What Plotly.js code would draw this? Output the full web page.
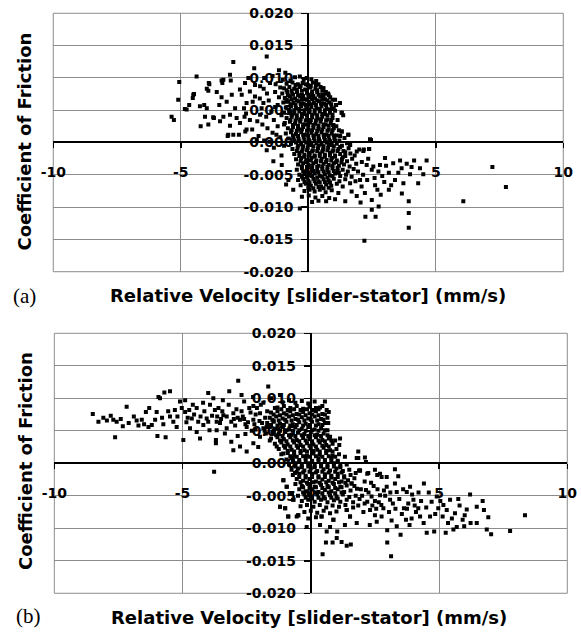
<!DOCTYPE html>
<html>
<head>
<meta charset="utf-8">
<script src="https://cdn.plot.ly/plotly-3.0.1.min.js"></script>
<style>html,body{margin:0;padding:0;background:#fff;}#chart{width:581px;height:635px;}</style>
</head>
<body>
<div id="chart"></div>
<script>
// ---------- Data: panel (a) [relative velocity mm/s, coefficient of friction] ----------
const aLeft = [
[-2.94,0.01245],[-1.63,0.0133],[-5.06,0.00935],[-4.38,0.0102],[-3.88,0.0090],[-3.33,0.0097],[-3.07,0.0105],[-3.37,0.0092],
[-3.04,0.0096],[-2.48,0.0092],[-2.12,0.0115],[-3.92,0.0080],[-3.59,0.0078],[-4.48,0.0075],[-4.53,0.0069],[-5.10,0.0066],
[-4.08,0.0058],[-3.98,0.0053],[-4.77,0.0051],[-4.67,0.0058],[-4.25,0.0056],[-3.40,0.0070],[-3.00,0.0074],[-2.68,0.0082],
[-2.61,0.0074],[-2.29,0.0079],[-3.49,0.0058],[-3.20,0.0063],[-4.05,0.0040],[-3.70,0.0038],[-3.92,0.0028],[-4.22,0.0025],
[-3.46,0.0033],[-3.33,0.0040],[-3.07,0.0043],[-2.87,0.0053],[-2.81,0.0038],[-2.52,0.0053],[-2.42,0.0061],[-2.18,0.0063],
[-2.09,0.0071],[-3.14,0.0012],[-2.94,0.0012],[-2.72,0.0012],[-2.42,0.0020],[-2.68,0.0030],[-3.07,0.0026],[-2.00,0.0033],
[-1.89,0.0043],[-1.83,0.0053],[-1.76,0.0061],[-2.29,0.0035],[-2.44,0.0045],[-2.09,0.0089],[-2.35,0.0100],[-1.89,0.0087],
[-1.73,0.0100],[-2.02,0.0004],[-1.73,0.0003],[-5.27,0.0035],[-5.36,0.0040],[-3.90,0.0092],[-3.40,0.0096],[-4.84,0.0052],
[-4.51,0.0074],[-3.98,0.0083],[-3.73,0.0039],[-2.47,0.0017],[-3.16,0.0010],
[-1.50,0.0092],[-1.40,0.0103],[-1.30,0.0078],[-1.55,0.0065],[-1.45,0.0048],[-1.35,0.0035],[-1.60,0.0022],[-1.25,0.0012],
[-1.50,0.0001],[-1.20,0.0058],[-1.10,0.0085],[-1.00,0.0097],[-1.15,0.0070],[-1.05,0.0042],[-0.95,0.0028],[-1.20,0.0025],
[-1.10,0.0008],[-0.90,0.0108],[-0.85,0.0063],[-1.30,0.0055],[-1.65,0.0040],[-1.80,0.0028],[-1.90,0.0068],[-1.75,0.0083],
[-2.20,0.0020],[-1.95,0.0010],[-2.50,0.0040],[-0.95,-0.0005],[-1.05,-0.0020],[-1.40,0.0015],[-1.28,0.0090],[-1.62,0.0076],
[-1.15,0.0112],[-1.35,-0.0008],[-1.63,-0.0012],[-1.37,-0.0029],[-1.04,-0.0035],[-0.87,-0.0065],[-0.59,-0.0073],[-0.78,-0.0058]
];
const aCore = [
[-0.52,0.0101],[-0.33,0.0102],[-0.18,0.0097],[-0.06,0.0100],[0.12,0.0098],[0.31,0.0095],[-0.70,0.0096],
[-0.85,0.0091],[-0.62,0.0093],[-0.41,0.0090],[-0.22,0.0092],[-0.02,0.0089],[0.18,0.0093],[0.40,0.0090],[0.59,0.0084],
[-0.95,0.0084],[-0.74,0.0086],[-0.55,0.0083],[-0.33,0.0086],[-0.12,0.0082],[0.08,0.0085],[0.28,0.0083],[0.48,0.0086],[0.69,0.0078],
[-1.02,0.0076],[-0.82,0.0078],[-0.63,0.0075],[-0.44,0.0078],[-0.25,0.0074],[-0.05,0.0077],[0.15,0.0075],[0.35,0.0078],[0.55,0.0074],[0.78,0.0076],
[-0.92,0.0069],[-0.72,0.0071],[-0.52,0.0068],[-0.32,0.0071],[-0.12,0.0067],[0.08,0.0070],[0.27,0.0068],[0.47,0.0071],[0.66,0.0067],[0.86,0.0070],[1.05,0.0066],
[-0.98,0.0062],[-0.78,0.0064],[-0.58,0.0061],[-0.38,0.0064],[-0.18,0.0060],[0.02,0.0063],[0.22,0.0061],[0.42,0.0064],[0.62,0.0060],[0.82,0.0062],[1.09,0.0058],[1.24,0.0061],
[-0.88,0.0054],[-0.68,0.0056],[-0.48,0.0053],[-0.28,0.0056],[-0.08,0.0052],[0.12,0.0055],[0.32,0.0053],[0.52,0.0056],[0.72,0.0052],[0.92,0.0054],
[-0.95,0.0046],[-0.75,0.0048],[-0.55,0.0045],[-0.35,0.0048],[-0.15,0.0044],[0.05,0.0047],[0.25,0.0045],[0.45,0.0048],[0.65,0.0044],[0.85,0.0046],[1.05,0.0049],[1.31,0.0046],[1.37,0.0042],
[-0.85,0.0038],[-0.65,0.0040],[-0.45,0.0037],[-0.25,0.0040],[-0.05,0.0036],[0.15,0.0039],[0.35,0.0037],[0.55,0.0040],[0.75,0.0036],[0.95,0.0038],[1.15,0.0035],
[-0.92,0.0030],[-0.72,0.0032],[-0.52,0.0029],[-0.32,0.0032],[-0.12,0.0028],[0.08,0.0031],[0.28,0.0029],[0.48,0.0032],[0.68,0.0028],[0.88,0.0030],[0.98,0.0027],
[-0.80,0.0022],[-0.60,0.0024],[-0.40,0.0021],[-0.20,0.0024],[0.00,0.0020],[0.20,0.0023],[0.40,0.0021],[0.60,0.0024],[0.80,0.0020],[1.00,0.0022],[1.20,0.0019],[1.31,0.0017],
[-0.88,0.0014],[-0.68,0.0016],[-0.48,0.0013],[-0.28,0.0016],[-0.08,0.0012],[0.12,0.0015],[0.32,0.0013],[0.52,0.0016],[0.72,0.0012],[0.92,0.0014],[1.12,0.0011],[1.57,0.0012],
[-0.78,0.0006],[-0.58,0.0008],[-0.38,0.0005],[-0.18,0.0008],[0.02,0.0004],[0.22,0.0007],[0.42,0.0005],[0.62,0.0008],[0.82,0.0004],[1.02,0.0006],[1.22,0.0003],[1.42,0.0007],
[-0.68,-0.0002],[-0.48,0.0000],[-0.28,-0.0003],[-0.08,0.0000],[0.12,-0.0004],[0.32,-0.0001],[0.52,-0.0003],[0.72,0.0000],[0.92,-0.0004],[1.12,-0.0002],[1.32,-0.0005],[1.52,-0.0001],[1.64,-0.0004],
[-0.62,-0.0010],[-0.42,-0.0008],[-0.22,-0.0011],[-0.02,-0.0008],[0.18,-0.0012],[0.38,-0.0009],[0.58,-0.0011],[0.78,-0.0008],[0.98,-0.0012],[1.18,-0.0010],[1.38,-0.0013],[1.58,-0.0009],[1.90,-0.0014],
[-0.55,-0.0018],[-0.35,-0.0016],[-0.15,-0.0019],[0.05,-0.0016],[0.25,-0.0020],[0.45,-0.0017],[0.65,-0.0019],[0.85,-0.0016],[1.05,-0.0020],[1.25,-0.0018],[1.45,-0.0021],[1.65,-0.0017],[1.82,-0.0020],
[-0.48,-0.0026],[-0.28,-0.0024],[-0.08,-0.0027],[0.12,-0.0024],[0.32,-0.0028],[0.52,-0.0025],[0.72,-0.0027],[0.92,-0.0024],[1.12,-0.0028],[1.32,-0.0026],[1.52,-0.0029],[1.72,-0.0025],
[-0.40,-0.0034],[-0.20,-0.0032],[0.00,-0.0035],[0.20,-0.0032],[0.40,-0.0036],[0.60,-0.0033],[0.80,-0.0035],[1.00,-0.0032],[1.20,-0.0036],[1.40,-0.0034],[1.62,-0.0037],[1.88,-0.0033],
[-0.45,-0.0042],[-0.25,-0.0040],[-0.05,-0.0043],[0.15,-0.0040],[0.35,-0.0044],[0.55,-0.0041],[0.75,-0.0043],[0.95,-0.0040],[1.15,-0.0044],[1.35,-0.0042],[1.55,-0.0045],[1.78,-0.0041],
[-0.35,-0.0050],[-0.15,-0.0048],[0.05,-0.0051],[0.25,-0.0048],[0.45,-0.0052],[0.65,-0.0049],[0.85,-0.0051],[1.05,-0.0048],[1.25,-0.0052],[1.48,-0.0050],[1.70,-0.0053],
[-0.40,-0.0058],[-0.20,-0.0056],[0.00,-0.0059],[0.20,-0.0056],[0.40,-0.0060],[0.60,-0.0057],[0.80,-0.0059],[1.00,-0.0056],[1.22,-0.0060],[1.45,-0.0057],
[-0.30,-0.0066],[-0.10,-0.0064],[0.10,-0.0067],[0.30,-0.0064],[0.50,-0.0068],[0.70,-0.0065],[0.90,-0.0067],[1.12,-0.0064],[1.35,-0.0068],
[-0.15,-0.0075],[0.05,-0.0073],[0.25,-0.0076],[0.45,-0.0073],[0.68,-0.0077],[0.92,-0.0074],[1.18,-0.0078],
[-0.25,-0.0084],[0.02,-0.0082],[0.28,-0.0085],[0.55,-0.0083],[0.82,-0.0086],[1.05,-0.0088],
[-0.33,-0.0102],[0.15,-0.0092],[0.40,-0.0090],[0.70,-0.0091]
];
const aCoreDense = [
[-0.50,0.0089],[-0.30,0.0088],[-0.10,0.0090],[0.10,0.0088],[0.30,0.0089],
[-0.85,0.0081],[-0.65,0.0080],[-0.45,0.0082],[-0.25,0.0080],[-0.05,0.0081],[0.15,0.0079],[0.35,0.0081],[0.55,0.0080],
[-0.80,0.0073],[-0.60,0.0074],[-0.40,0.0073],[-0.20,0.0072],[0.00,0.0074],[0.20,0.0072],[0.40,0.0074],[0.60,0.0072],[0.80,0.0073],
[-0.85,0.0066],[-0.65,0.0067],[-0.45,0.0065],[-0.25,0.0066],[-0.05,0.0066],[0.15,0.0067],[0.35,0.0065],[0.55,0.0066],[0.75,0.0065],[0.95,0.0066],
[-0.70,0.0059],[-0.50,0.0058],[-0.30,0.0060],[-0.10,0.0058],[0.10,0.0059],[0.30,0.0058],[0.50,0.0060],[0.70,0.0058],[0.90,0.0059],
[-0.75,0.0051],[-0.55,0.0050],[-0.35,0.0052],[-0.15,0.0050],[0.05,0.0051],[0.25,0.0050],[0.45,0.0052],[0.65,0.0050],[0.85,0.0051],[1.00,0.0052],
[-0.65,0.0043],[-0.45,0.0042],[-0.25,0.0044],[-0.05,0.0042],[0.15,0.0043],[0.35,0.0042],[0.55,0.0044],[0.75,0.0042],[0.95,0.0043],
[-0.70,0.0035],[-0.50,0.0034],[-0.30,0.0036],[-0.10,0.0034],[0.10,0.0035],[0.30,0.0034],[0.50,0.0036],[0.70,0.0034],[0.90,0.0035],
[-0.60,0.0027],[-0.40,0.0026],[-0.20,0.0028],[0.00,0.0026],[0.20,0.0027],[0.40,0.0026],[0.60,0.0028],[0.80,0.0026],[1.10,0.0025],
[-0.65,0.0019],[-0.45,0.0018],[-0.25,0.0020],[-0.05,0.0018],[0.15,0.0019],[0.35,0.0018],[0.55,0.0020],[0.75,0.0018],[0.95,0.0019],
[-0.60,0.0011],[-0.40,0.0010],[-0.20,0.0012],[0.00,0.0010],[0.20,0.0011],[0.40,0.0010],[0.60,0.0012],[0.80,0.0010],[1.00,0.0011],[1.25,0.0010],
[-0.55,0.0003],[-0.35,0.0002],[-0.15,0.0004],[0.05,0.0002],[0.25,0.0003],[0.45,0.0002],[0.65,0.0004],[0.85,0.0002],[1.05,0.0003],
[-0.40,-0.0005],[-0.20,-0.0006],[0.00,-0.0004],[0.20,-0.0006],[0.40,-0.0005],[0.60,-0.0006],[0.80,-0.0004],[1.00,-0.0006],[1.25,-0.0007],
[-0.45,-0.0013],[-0.25,-0.0014],[-0.05,-0.0012],[0.15,-0.0014],[0.35,-0.0013],[0.55,-0.0014],[0.75,-0.0012],[0.95,-0.0014],[1.15,-0.0013],[1.45,-0.0015],
[-0.35,-0.0021],[-0.15,-0.0022],[0.05,-0.0020],[0.25,-0.0022],[0.45,-0.0021],[0.65,-0.0022],[0.85,-0.0020],[1.05,-0.0022],[1.35,-0.0023],
[-0.30,-0.0029],[-0.10,-0.0030],[0.10,-0.0028],[0.30,-0.0030],[0.50,-0.0029],[0.70,-0.0030],[0.90,-0.0028],[1.10,-0.0030],[1.30,-0.0031],
[-0.25,-0.0037],[-0.05,-0.0038],[0.15,-0.0036],[0.35,-0.0038],[0.55,-0.0037],[0.75,-0.0038],[0.95,-0.0036],[1.15,-0.0039],
[-0.20,-0.0045],[0.00,-0.0046],[0.20,-0.0044],[0.40,-0.0046],[0.60,-0.0045],[0.80,-0.0046],[1.00,-0.0044],[1.20,-0.0047],
[-0.25,-0.0053],[-0.05,-0.0054],[0.15,-0.0052],[0.35,-0.0054],[0.55,-0.0053],[0.75,-0.0054],[0.95,-0.0052],
[-0.15,-0.0061],[0.05,-0.0062],[0.25,-0.0060],[0.45,-0.0062],[0.65,-0.0061],[0.85,-0.0062],
[0.00,-0.0070],[0.20,-0.0071],[0.40,-0.0069],[0.60,-0.0071],[0.80,-0.0070]
];
const aRight = [
[6.08,-0.0091],[7.22,-0.0038],[7.75,-0.0069],[2.20,-0.0152],[3.94,-0.0132],[3.94,-0.0109],[3.94,-0.0091],[2.24,-0.0115],
[2.64,-0.0115],[2.49,-0.0104],[2.76,-0.0099],[4.64,-0.0028],[4.15,-0.0028],[4.31,-0.0063],[3.67,-0.0079],[2.46,0.0004],
[2.39,-0.0010],[4.51,-0.0049],[3.86,-0.0033],[3.99,-0.0049],[3.66,-0.0040],[3.73,-0.0063],[3.33,-0.0032],[3.53,-0.0047],
[3.16,-0.0047],[3.01,-0.0024],[2.81,-0.0035],[2.75,-0.0045],[2.98,-0.0061],[3.16,-0.0073],[2.84,-0.0081],[2.71,-0.0073],
[2.49,-0.0042],[2.55,-0.0037],[2.29,-0.0035],[2.49,-0.0089],[2.05,-0.0093],[2.22,-0.0078],[1.90,-0.0083],[1.70,-0.0076],
[1.45,-0.0091],[1.64,-0.0063],[2.03,-0.0058],[2.09,-0.0068],[2.31,-0.0058],[2.00,-0.0011],[2.18,-0.0011],[2.38,-0.0010],
[2.16,-0.0013],[1.64,-0.0004],[2.42,0.0005],[0.59,0.0084],[0.69,0.0076],[1.24,0.0061],[1.09,0.0058],[1.31,0.0046],
[0.98,0.0027],[1.57,0.0012],[1.31,0.0017],[2.90,-0.0052],[3.40,-0.0058],[3.05,-0.0036],[2.60,-0.0055],[2.35,-0.0025],
[2.10,-0.0030],[1.95,-0.0045],[3.25,-0.0066],[3.60,-0.0028],[4.05,-0.0038],[4.38,-0.0040],[2.62,-0.0066],[2.15,-0.0050],
[1.85,-0.0060]
];

// ---------- Data: panel (b) ----------
const bLeft = [
[-8.50,0.0076],[-8.28,0.0064],[-8.09,0.0070],[-7.95,0.0066],[-7.80,0.0073],[-7.70,0.0067],[-7.57,0.0064],[-7.41,0.0068],
[-7.33,0.0057],[-7.63,0.0040],[-7.18,0.0087],[-6.79,0.0066],[-6.72,0.0058],[-6.59,0.0067],[-6.43,0.0079],[-6.30,0.0085],
[-6.33,0.0056],[-6.20,0.0059],[-6.07,0.0067],[-6.01,0.0079],[-5.94,0.0102],[-5.88,0.0100],[-5.71,0.0109],[-5.49,0.0111],
[-5.98,0.0042],[-5.66,0.0040],[-5.56,0.0080],[-5.49,0.0072],[-5.36,0.0064],[-5.23,0.0056],[-5.10,0.0095],[-4.90,0.0097],
[-5.03,0.0085],[-4.90,0.0079],[-4.97,0.0036],[-4.74,0.0082],[-4.64,0.0069],[-4.45,0.0085],[-4.39,0.0064],[-4.71,0.0054],
[-4.32,0.0038],[-4.19,0.0059],[-4.06,0.0069],[-4.00,0.0108],[-3.93,0.0090],[-3.74,0.0082],[-3.67,0.0064],[-3.70,0.0036],
[-3.70,0.0031],[-3.43,0.0097],[-3.41,0.0074],[-3.28,0.0054],[-3.77,-0.0013],[-3.18,0.0111],[-2.83,0.0127],[-2.24,0.0088],
[-1.66,0.0118],[-3.02,0.0020],[-2.76,0.0026],[-2.50,0.0018],[-3.67,0.0051],[-3.54,0.0062],[-3.28,0.0072],[-3.02,0.0077],
[-2.76,0.0067],[-2.50,0.0056],[-2.24,0.0067],[-1.98,0.0077],[-1.72,0.0056],[-1.46,0.0046],[-1.98,0.0041],[-2.24,0.0031],
[-1.33,0.0026],[-1.07,0.0015],
[-4.85,0.0063],[-4.55,0.0075],[-4.30,0.0072],[-4.15,0.0080],[-3.85,0.0073],[-3.60,0.0085],[-3.50,0.0068],[-3.20,0.0090],
[-3.10,0.0064],[-2.95,0.0058],[-2.90,0.0083],[-2.65,0.0072],[-2.60,0.0095],[-2.45,0.0063],[-2.35,0.0078],[-2.15,0.0052],
[-2.10,0.0085],[-1.90,0.0062],[-1.85,0.0093],[-1.78,0.0070],[-2.55,0.0045],[-2.85,0.0042],[-3.35,0.0046],[-4.60,0.0090],
[-4.20,0.0093],[-3.80,0.0100],[-5.30,0.0082],[-5.80,0.0070],[-5.75,0.0060],[-6.50,0.0060],[-6.90,0.0072],[-7.10,0.0062],
[-5.20,0.0072],[-4.80,0.0070],[-3.95,0.0051],[-4.45,0.0048],[-3.10,0.0033],[-2.05,0.0025],[-1.60,0.0035],[-2.70,0.0105],
[-2.25,0.0102],[-1.55,0.0100],[-1.40,0.0085],[-1.45,0.0065],[-1.20,0.0105],
[-2.85,0.0070],[-2.55,0.0060],[-2.40,0.0085],[-2.15,0.0075],[-2.00,0.0065],[-1.80,0.0050],[-2.30,0.0050],[-2.70,0.0080],
[-3.00,0.0068],[-2.60,0.0068],[-1.95,0.0090],[-1.70,0.0080],[-2.20,0.0060],[-3.45,0.0080],[-3.65,0.0072],[-4.00,0.0064]
];
const bCore = [
[-1.10,0.0094],[-0.85,0.0097],[-0.60,0.0093],[-0.35,0.0096],[-0.10,0.0092],[0.15,0.0095],[0.36,0.0086],[0.55,0.0095],[0.62,0.0082],
[-1.30,0.0086],[-1.05,0.0088],[-0.80,0.0085],[-0.55,0.0088],[-0.30,0.0084],[-0.05,0.0087],[0.20,0.0085],[0.45,0.0088],
[-1.55,0.0078],[-1.30,0.0080],[-1.05,0.0077],[-0.80,0.0080],[-0.55,0.0076],[-0.30,0.0079],[-0.05,0.0077],[0.20,0.0080],[0.45,0.0076],[0.70,0.0079],
[-1.60,0.0070],[-1.35,0.0072],[-1.10,0.0069],[-0.85,0.0072],[-0.60,0.0068],[-0.35,0.0071],[-0.10,0.0069],[0.15,0.0072],[0.40,0.0068],[0.65,0.0070],
[-1.70,0.0062],[-1.45,0.0064],[-1.20,0.0061],[-0.95,0.0064],[-0.70,0.0060],[-0.45,0.0063],[-0.20,0.0061],[0.05,0.0064],[0.30,0.0060],[0.55,0.0062],[0.68,0.0062],
[-1.85,0.0054],[-1.60,0.0056],[-1.35,0.0053],[-1.10,0.0056],[-0.85,0.0052],[-0.60,0.0055],[-0.35,0.0053],[-0.10,0.0056],[0.15,0.0052],[0.40,0.0054],[0.65,0.0051],
[-1.75,0.0046],[-1.50,0.0048],[-1.25,0.0045],[-1.00,0.0048],[-0.75,0.0044],[-0.50,0.0047],[-0.25,0.0045],[0.00,0.0048],[0.25,0.0044],[0.50,0.0046],[0.75,0.0041],[1.14,0.0038],
[-1.55,0.0038],[-1.30,0.0040],[-1.05,0.0037],[-0.80,0.0040],[-0.55,0.0036],[-0.30,0.0039],[-0.05,0.0037],[0.20,0.0040],[0.45,0.0036],[0.70,0.0038],[0.95,0.0035],
[-1.40,0.0030],[-1.15,0.0032],[-0.90,0.0029],[-0.65,0.0032],[-0.40,0.0028],[-0.15,0.0031],[0.10,0.0029],[0.35,0.0032],[0.60,0.0028],[0.85,0.0030],[1.11,0.0028],
[-1.25,0.0022],[-1.00,0.0024],[-0.75,0.0021],[-0.50,0.0024],[-0.25,0.0020],[0.00,0.0023],[0.25,0.0021],[0.50,0.0024],[0.75,0.0020],[1.00,0.0022],[1.85,0.0018],
[-1.15,0.0014],[-0.90,0.0016],[-0.65,0.0013],[-0.40,0.0016],[-0.15,0.0012],[0.10,0.0015],[0.35,0.0013],[0.60,0.0016],[0.85,0.0012],[1.10,0.0014],
[-0.95,0.0006],[-0.70,0.0008],[-0.45,0.0005],[-0.20,0.0008],[0.05,0.0004],[0.30,0.0007],[0.55,0.0005],[0.80,0.0008],[1.05,0.0004],[1.33,0.0010],[1.79,0.0008],[2.11,0.0009],
[-0.85,-0.0002],[-0.60,0.0000],[-0.35,-0.0003],[-0.10,0.0000],[0.15,-0.0004],[0.40,-0.0001],[0.65,-0.0003],[0.90,0.0000],[1.15,-0.0004],[1.40,-0.0002],
[-0.75,-0.0010],[-0.50,-0.0008],[-0.25,-0.0011],[0.00,-0.0008],[0.25,-0.0012],[0.50,-0.0009],[0.75,-0.0011],[1.00,-0.0008],[1.25,-0.0012],[1.50,-0.0010],[1.92,-0.0011],
[-0.70,-0.0018],[-0.45,-0.0016],[-0.20,-0.0019],[0.05,-0.0016],[0.30,-0.0020],[0.55,-0.0017],[0.80,-0.0019],[1.05,-0.0016],[1.30,-0.0020],[1.55,-0.0018],[1.75,-0.0015],
[-1.07,-0.0026],[-0.55,-0.0024],[-0.30,-0.0027],[-0.05,-0.0024],[0.20,-0.0028],[0.45,-0.0025],[0.70,-0.0027],[0.95,-0.0024],[1.20,-0.0028],[1.45,-0.0026],[1.70,-0.0023],
[-0.94,-0.0036],[-0.60,-0.0032],[-0.35,-0.0035],[-0.10,-0.0032],[0.15,-0.0036],[0.40,-0.0033],[0.65,-0.0035],[0.90,-0.0032],[1.15,-0.0036],[1.40,-0.0034],[1.59,-0.0031],
[-0.74,-0.0046],[-0.45,-0.0040],[-0.20,-0.0043],[0.05,-0.0040],[0.30,-0.0044],[0.55,-0.0041],[0.80,-0.0043],[1.05,-0.0040],[1.30,-0.0044],[1.55,-0.0042],[1.80,-0.0039],
[-0.50,-0.0050],[-0.25,-0.0048],[0.00,-0.0051],[0.25,-0.0048],[0.50,-0.0052],[0.75,-0.0049],[1.00,-0.0051],[1.25,-0.0048],[1.50,-0.0052],[1.75,-0.0050],
[-0.68,-0.0056],[-0.35,-0.0058],[-0.10,-0.0056],[0.15,-0.0059],[0.40,-0.0056],[0.65,-0.0060],[0.90,-0.0057],[1.15,-0.0059],[1.40,-0.0056],[1.65,-0.0060],
[-1.20,-0.0067],[-1.00,-0.0069],[-0.40,-0.0066],[-0.15,-0.0064],[0.10,-0.0067],[0.35,-0.0064],[0.60,-0.0068],[0.85,-0.0065],[1.10,-0.0067],[1.35,-0.0064],
[-0.25,-0.0075],[0.00,-0.0073],[0.25,-0.0076],[0.50,-0.0073],[0.75,-0.0077],[1.00,-0.0074],[1.40,-0.0072],
[-0.88,-0.0082],[-0.55,-0.0082],[-0.49,-0.0080],[-0.10,-0.0085],[0.20,-0.0083],[0.42,-0.0082],[0.88,-0.0087],[1.53,-0.0082]
];
const bCoreDense = [
[-1.15,0.0083],[-0.90,0.0082],[-0.65,0.0083],[-0.40,0.0082],[-0.15,0.0083],[0.10,0.0082],[0.30,0.0083],
[-1.45,0.0075],[-1.20,0.0074],[-0.95,0.0075],[-0.70,0.0074],[-0.45,0.0075],[-0.20,0.0074],[0.05,0.0075],[0.30,0.0074],[0.55,0.0075],
[-1.50,0.0067],[-1.25,0.0066],[-1.00,0.0067],[-0.75,0.0066],[-0.50,0.0067],[-0.25,0.0066],[0.00,0.0067],[0.25,0.0066],[0.50,0.0067],
[-1.55,0.0059],[-1.30,0.0058],[-1.05,0.0059],[-0.80,0.0058],[-0.55,0.0059],[-0.30,0.0058],[-0.05,0.0059],[0.20,0.0058],[0.45,0.0059],
[-1.45,0.0051],[-1.20,0.0050],[-0.95,0.0051],[-0.70,0.0050],[-0.45,0.0051],[-0.20,0.0050],[0.05,0.0051],[0.30,0.0050],[0.55,0.0051],
[-1.35,0.0043],[-1.10,0.0042],[-0.85,0.0043],[-0.60,0.0042],[-0.35,0.0043],[-0.10,0.0042],[0.15,0.0043],[0.40,0.0042],[0.65,0.0043],
[-1.20,0.0035],[-0.95,0.0034],[-0.70,0.0035],[-0.45,0.0034],[-0.20,0.0035],[0.05,0.0034],[0.30,0.0035],[0.55,0.0034],[0.80,0.0035],
[-1.05,0.0027],[-0.80,0.0026],[-0.55,0.0027],[-0.30,0.0026],[-0.05,0.0027],[0.20,0.0026],[0.45,0.0027],[0.70,0.0026],
[-0.90,0.0019],[-0.65,0.0018],[-0.40,0.0019],[-0.15,0.0018],[0.10,0.0019],[0.35,0.0018],[0.60,0.0019],[0.85,0.0018],
[-0.80,0.0011],[-0.55,0.0010],[-0.30,0.0011],[-0.05,0.0010],[0.20,0.0011],[0.45,0.0010],[0.70,0.0011],[0.95,0.0010],
[-0.70,0.0003],[-0.45,0.0002],[-0.20,0.0003],[0.05,0.0002],[0.30,0.0003],[0.55,0.0002],[0.80,0.0003],[1.05,0.0002],
[-0.60,-0.0005],[-0.35,-0.0006],[-0.10,-0.0005],[0.15,-0.0006],[0.40,-0.0005],[0.65,-0.0006],[0.90,-0.0005],[1.15,-0.0006],
[-0.55,-0.0013],[-0.30,-0.0014],[-0.05,-0.0013],[0.20,-0.0014],[0.45,-0.0013],[0.70,-0.0014],[0.95,-0.0013],[1.20,-0.0014],
[-0.45,-0.0021],[-0.20,-0.0022],[0.05,-0.0021],[0.30,-0.0022],[0.55,-0.0021],[0.80,-0.0022],[1.05,-0.0021],[1.30,-0.0022],
[-0.40,-0.0029],[-0.15,-0.0030],[0.10,-0.0029],[0.35,-0.0030],[0.60,-0.0029],[0.85,-0.0030],[1.10,-0.0029],[1.35,-0.0030],
[-0.30,-0.0037],[-0.05,-0.0038],[0.20,-0.0037],[0.45,-0.0038],[0.70,-0.0037],[0.95,-0.0038],[1.20,-0.0037],
[-0.30,-0.0045],[-0.05,-0.0046],[0.20,-0.0045],[0.45,-0.0046],[0.70,-0.0045],[0.95,-0.0046],[1.20,-0.0045],
[-0.20,-0.0053],[0.05,-0.0054],[0.30,-0.0053],[0.55,-0.0054],[0.80,-0.0053],[1.05,-0.0054]
];
const bRight = [
[8.35,-0.0080],[7.77,-0.0104],[7.03,-0.0109],[6.86,-0.0102],[6.92,-0.0083],[6.75,-0.0072],[6.47,-0.0067],[6.70,-0.0058],
[6.21,-0.0048],[6.08,-0.0071],[6.23,-0.0092],[6.47,-0.0092],[5.98,-0.0097],[5.92,-0.0087],[5.69,-0.0098],[5.56,-0.0102],
[5.26,-0.0107],[4.81,-0.0105],[4.52,-0.0107],[5.62,-0.0077],[5.43,-0.0056],[5.17,-0.0064],[5.14,-0.0082],[4.97,-0.0069],
[4.71,-0.0059],[4.91,-0.0051],[4.41,-0.0031],[4.65,-0.0082],[4.26,-0.0082],[4.19,-0.0069],[4.00,-0.0056],[3.87,-0.0036],
[3.74,-0.0044],[3.63,-0.0069],[3.93,-0.0085],[3.71,-0.0087],[3.50,-0.0110],[3.35,-0.0097],[3.13,-0.0143],[2.98,-0.0122],
[2.98,-0.0103],[3.28,-0.0031],[3.35,-0.0044],[3.09,-0.0056],[2.83,-0.0069],[2.76,-0.0082],[2.57,-0.0090],[2.50,-0.0080],
[2.31,-0.0072],[2.20,-0.0059],[2.15,-0.0041],[2.37,-0.0051],[2.70,-0.0049],[2.96,-0.0036],[2.59,-0.0018],[2.76,-0.0021],
[2.20,-0.0016],[1.88,-0.0011],[1.85,0.0008],[1.59,-0.0031],[1.79,-0.0092],[1.53,-0.0082],[1.40,-0.0072],[1.33,-0.0095],
[1.56,-0.0125],[1.40,-0.0127],[1.20,-0.0121],[1.01,-0.0115],[1.03,-0.0105],[0.85,-0.0122],[0.59,-0.0122],[0.46,-0.0140],
[0.62,-0.0105],[0.88,-0.0087],[0.75,-0.0098],[0.36,-0.0095],[0.42,-0.0082],[-0.16,-0.0098],[-0.49,-0.0080],
[3.28,-0.0009],[3.41,-0.0020],[2.96,-0.0021],[2.70,-0.0016],[2.50,-0.0010],[2.24,-0.0015],[1.92,-0.0011],
[-1.20,-0.0067],[-1.00,-0.0069],[-0.88,-0.0082],[-1.07,-0.0026],[-0.94,-0.0036],[-0.74,-0.0046],[-0.68,-0.0056],[-0.62,-0.0015],
[2.10,-0.0028],[2.45,-0.0035],[2.65,-0.0060],[2.90,-0.0050],[3.05,-0.0075],[3.20,-0.0062],[3.45,-0.0055],[3.55,-0.0078],
[3.80,-0.0062],[3.95,-0.0048],[4.10,-0.0075],[4.30,-0.0058],[4.50,-0.0068],[4.60,-0.0045],[4.85,-0.0078],[5.05,-0.0058],
[5.30,-0.0072],[5.50,-0.0085],[5.80,-0.0065],[4.40,-0.0092],[3.85,-0.0095],[3.15,-0.0088],[2.40,-0.0065],[2.05,-0.0075],
[1.90,-0.0055],[2.30,-0.0095],[2.60,-0.0040],[3.60,-0.0040],[4.20,-0.0045],[5.35,-0.0092],[6.00,-0.0080],[5.75,-0.0055],
[2.15,0.0002],
[1.70,-0.0035],[1.95,-0.0040],[2.25,-0.0045],[2.50,-0.0058],[2.75,-0.0064],[1.85,-0.0065],[2.10,-0.0062],[2.35,-0.0030],
[2.85,-0.0042],[3.10,-0.0045],[3.30,-0.0070],[3.75,-0.0070],[4.05,-0.0065],[2.55,-0.0070],[1.65,-0.0068],[2.00,-0.0050]
];

// ---------- Tick labels ----------
const xTickVals = [-10, -5, 0, 5, 10];
const xTickText = ['-10', '-5', '0', '5', '10'];
const yTickVals = [-0.02, -0.015, -0.01, -0.005, 0, 0.005, 0.01, 0.015, 0.02];
const yTickText = ['-0.020', '-0.015', '-0.010', '-0.005', '0.000', '0.005', '0.010', '0.015', '0.020'];

const xTitle = 'Relative Velocity [slider-stator] (mm/s)';
const yTitle = 'Coefficient of Friction';

// ---------- Build ----------
const aPts = aLeft.concat(aCore, aCoreDense, aRight);
const bPts = bLeft.concat(bCore, bCoreDense, bRight);
const marker = {symbol: 'square', size: 4, color: '#000', line: {width: 0}};

const traces = [
  {type: 'scatter', mode: 'markers', x: aPts.map(p => p[0]), y: aPts.map(p => p[1]), xaxis: 'x', yaxis: 'y', marker: marker, hoverinfo: 'skip'},
  {type: 'scatter', mode: 'markers', x: bPts.map(p => p[0]), y: bPts.map(p => p[1]), xaxis: 'x2', yaxis: 'y2', marker: marker, hoverinfo: 'skip'}
];

const tickFont = {family: 'DejaVu Sans, Arial, sans-serif', size: 14, color: '#000', weight: 700};
const gridColor = '#8c8c8c';

function xAx(domain, pos) {
  return {domain: domain, range: [-10, 10], anchor: 'free', position: pos,
    tickmode: 'array', tickvals: xTickVals, ticktext: xTickText,
    showgrid: true, gridcolor: gridColor, gridwidth: 1, zeroline: false,
    showline: true, linecolor: '#000', linewidth: 2,
    ticks: 'outside', ticklen: 5, tickwidth: 1.5, tickcolor: '#000',
    tickfont: tickFont, ticklabelstandoff: 12, layer: 'below traces', fixedrange: true};
}
function yAx(domain, pos) {
  return {domain: domain, range: [-0.02, 0.02], anchor: 'free', position: pos,
    tickmode: 'array', tickvals: yTickVals, ticktext: yTickText,
    showgrid: true, gridcolor: gridColor, gridwidth: 1, zeroline: false,
    showline: true, linecolor: '#000', linewidth: 2,
    ticks: 'outside', ticklen: 6, tickwidth: 1.5, tickcolor: '#000',
    tickfont: tickFont, ticklabelstandoff: 5, layer: 'below traces', fixedrange: true};
}

const titleFont = {family: 'DejaVu Sans, Arial, sans-serif', size: 18, color: '#000', weight: 700};
const labelFont = {family: 'Liberation Serif, Times New Roman, serif', size: 21, color: '#000'};

const layout = {
  width: 581, height: 635,
  margin: {l: 0, r: 0, t: 0, b: 0},
  paper_bgcolor: '#fff', plot_bgcolor: '#fff',
  showlegend: false,
  xaxis: xAx([0.0917, 0.9695], 0.7756),
  yaxis: yAx([0.5721, 0.9791], 0.5306),
  xaxis2: xAx([0.0935, 0.9764], 0.2704),
  yaxis2: yAx([0.0657, 0.4751], 0.53495),
  shapes: [
    {type: 'rect', xref: 'x domain', yref: 'y domain', x0: 0, x1: 1, y0: 0, y1: 1, line: {color: gridColor, width: 1}, layer: 'below'},
    {type: 'rect', xref: 'x2 domain', yref: 'y2 domain', x0: 0, x1: 1, y0: 0, y1: 1, line: {color: gridColor, width: 1}, layer: 'below'}
  ],
  annotations: [
    {text: xTitle, xref: 'paper', yref: 'paper', x: 0.530, y: 0.5354, xanchor: 'center', yanchor: 'middle', showarrow: false, font: titleFont},
    {text: xTitle, xref: 'paper', yref: 'paper', x: 0.532, y: 0.0283, xanchor: 'center', yanchor: 'middle', showarrow: false, font: titleFont},
    {text: yTitle, xref: 'paper', yref: 'paper', x: 0.0413, y: 0.7772, xanchor: 'center', yanchor: 'middle', textangle: -90, showarrow: false, font: titleFont},
    {text: yTitle, xref: 'paper', yref: 'paper', x: 0.0439, y: 0.2732, xanchor: 'center', yanchor: 'middle', textangle: -90, showarrow: false, font: titleFont},
    {text: '(a)', xref: 'paper', yref: 'paper', x: 0.0422, y: 0.5339, xanchor: 'center', yanchor: 'middle', showarrow: false, font: labelFont},
    {text: '(b)', xref: 'paper', yref: 'paper', x: 0.0499, y: 0.0299, xanchor: 'center', yanchor: 'middle', showarrow: false, font: labelFont}
  ]
};

Plotly.newPlot('chart', traces, layout, {displayModeBar: false, staticPlot: true});
</script>
</body>
</html>
